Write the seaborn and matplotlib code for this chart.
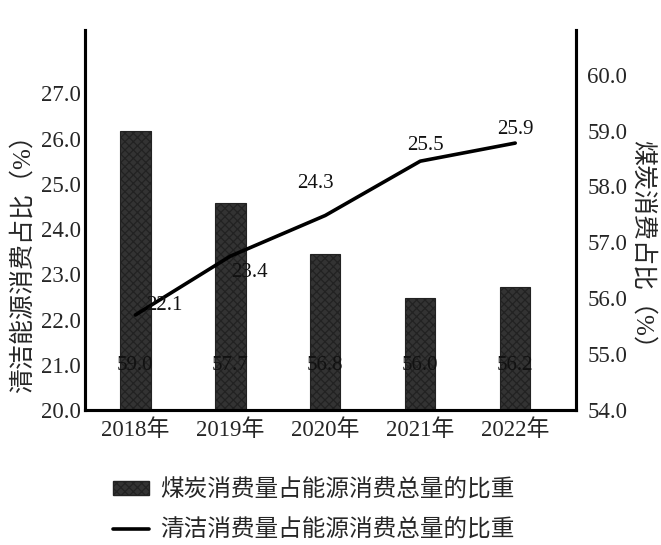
import matplotlib
matplotlib.use('Agg')
import matplotlib.pyplot as plt
import seaborn as sns
import pandas as pd
from matplotlib.patches import Patch
from matplotlib.lines import Line2D

years = ['2018年', '2019年', '2020年', '2021年', '2022年']
coal_share = [59.0, 57.7, 56.8, 56.0, 56.2]
clean_share = [22.1, 23.4, 24.3, 25.5, 25.9]
left_ticks = [20.0, 21.0, 22.0, 23.0, 24.0, 25.0, 26.0, 27.0]
right_ticks = [54.0, 55.0, 56.0, 57.0, 58.0, 59.0, 60.0]

sns.set_style('white')
plt.rcParams['font.family'] = ['Liberation Serif', 'Noto Sans CJK SC', 'DejaVu Sans']
plt.rcParams['hatch.color'] = '#a8a8a8'
plt.rcParams['hatch.linewidth'] = 0.9

df = pd.DataFrame({'year': years, 'coal': coal_share, 'clean': clean_share})

fig = plt.figure(figsize=(6.61, 5.45), dpi=100)
ax = fig.add_axes([0.1286, 0.2477, 0.7428, 0.6973])
ax2 = ax.twinx()

# bars: coal share on the right axis
sns.barplot(data=df, x='year', y='coal', ax=ax2, color='#333333', width=0.32,
            edgecolor='#222222', linewidth=0.8, hatch='xxxx', saturation=1)
ax2.set_ylim(54.0, 60.8)
for i, v in enumerate(coal_share):
    ax2.text(i, 54.8, f'{v:.1f}', ha='center', va='center', fontsize=15, color='#111111')

# line: clean energy share on the left axis
sns.lineplot(data=df, x='year', y='clean', ax=ax, color='black', linewidth=2.6, sort=False)
ax.set_ylim(20.0, 28.4)
ax.set_xlim(-0.53, 4.64)
ax.set_zorder(ax2.get_zorder() + 1)
ax.patch.set_visible(False)

offsets = [(0.3, 0.2), (0.2, -0.35), (-0.1, 0.7), (0.05, 0.35), (0.0, 0.3)]
for i, (v, (dx, dy)) in enumerate(zip(clean_share, offsets)):
    ax.text(i + dx, v + dy, f'{v:.1f}', ha='center', va='center', fontsize=15, color='#111111')

ax.set_yticks(left_ticks)
ax.set_yticklabels([f'{t:.1f}' for t in left_ticks], fontsize=16.5)
ax2.set_yticks(right_ticks)
ax2.set_yticklabels([f'{t:.1f}' for t in right_ticks], fontsize=16.5)
ax.set_xticks(range(len(years)))
ax.set_xticklabels(years, fontsize=16.5)
ax.tick_params(axis='y', length=0, pad=3)
ax.tick_params(axis='x', length=0, pad=7)
ax2.tick_params(length=0, pad=8)
ax.set_xlabel('')
ax2.set_xlabel('')
ax.set_ylabel('清洁能源消费占比（%）', fontsize=18, va='center')
ax2.set_ylabel('煤炭消费占比（%）', fontsize=18, rotation=-90, va='center')
ax.yaxis.set_label_coords(-0.127, 0.40)
ax2.yaxis.set_label_coords(1.135, 0.42)

for a in (ax, ax2):
    a.spines['top'].set_visible(False)
    for s in ('left', 'right', 'bottom'):
        a.spines[s].set_linewidth(2.2)
        a.spines[s].set_color('black')

handles = [Patch(facecolor='#333333', edgecolor='#222222', hatch='xxxx'),
           Line2D([0], [0], color='black', linewidth=2.6)]
fig.legend(handles, ['煤炭消费量占能源消费总量的比重', '清洁消费量占能源消费总量的比重'],
           loc='upper left', bbox_to_anchor=(0.139, 0.16), frameon=False,
           fontsize=17, handlelength=1.5, handleheight=0.5, labelspacing=0.75,
           handletextpad=0.5)

fig.savefig('out.png', dpi=100)
